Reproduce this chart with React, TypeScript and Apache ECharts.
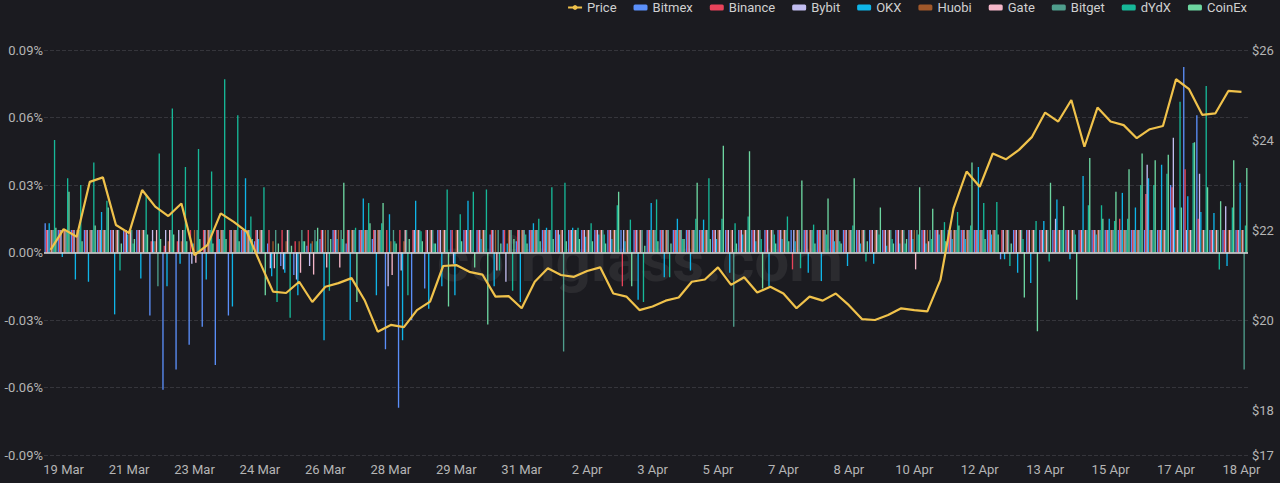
import React, { useEffect, useRef } from "react";
import * as echarts from "echarts";

const dayLabels = [
  "19 Mar", "20 Mar", "21 Mar", "22 Mar", "23 Mar", "24 Mar", "25 Mar", "26 Mar", "27 Mar", "28 Mar",
  "29 Mar", "30 Mar", "31 Mar", "1 Apr", "2 Apr", "3 Apr", "4 Apr", "5 Apr", "6 Apr", "7 Apr",
  "8 Apr", "9 Apr", "10 Apr", "11 Apr", "12 Apr", "13 Apr", "14 Apr", "15 Apr", "16 Apr", "17 Apr", "18 Apr",
];
const hourLabels = ["00:00", "08:00", "16:00"];

const price = [
  21.56, 22.02, 21.85, 23.07, 23.17, 22.11, 21.93, 22.89, 22.52, 22.31,
  22.59, 21.44, 21.67, 22.37, 22.18, 21.96, 21.28, 20.63, 20.6, 20.85,
  20.4, 20.74, 20.82, 20.93, 20.44, 19.74, 19.89, 19.84, 20.22, 20.41,
  21.2, 21.22, 21.07, 21.01, 20.52, 20.53, 20.26, 20.85, 21.15, 21.0,
  20.96, 21.09, 21.17, 20.59, 20.52, 20.22, 20.3, 20.43, 20.5, 20.85,
  20.9, 21.17, 20.78, 20.95, 20.61, 20.74, 20.59, 20.26, 20.52, 20.43,
  20.59, 20.33, 20.02, 20.0, 20.11, 20.26, 20.22, 20.19, 20.89, 22.48,
  23.3, 22.96, 23.7, 23.57, 23.78, 24.07, 24.61, 24.41, 24.89, 23.85,
  24.72, 24.41, 24.33, 24.04, 24.24, 24.31, 25.35, 25.13, 24.56, 24.59,
  25.09, 25.07,
];

const bitmex = [
  0.013, 0.01, 0.01, 0.01, 0.01, 0.01, 0.01, 0.01, -0.028, -0.061,
  -0.052, -0.041, -0.033, -0.05, -0.028, 0.01, 0.005, 0.004, -0.006, -0.01,
  0.003, 0.006, 0.01, 0.004, 0.01, 0.006, -0.043, -0.069, -0.03, -0.016,
  0.01, 0.01, 0.01, 0.01, 0.008, 0.01, 0.005, 0.01, 0.01, 0.01,
  0.01, 0.01, 0.01, 0.01, 0.01, 0.01, 0.01, 0.01, 0.01, 0.01,
  0.01, 0.01, 0.01, 0.01, 0.01, 0.01, 0.01, 0.01, 0.01, 0.01,
  0.01, 0.01, 0.01, 0.01, 0.01, 0.01, 0.01, 0.01, 0.01, 0.01,
  0.01, 0.01, 0.01, -0.003, 0.01, 0.01, 0.01, 0.01, 0.01, 0.01,
  0.01, 0.01, 0.01, 0.01, 0.01, 0.01, 0.03, 0.0825, 0.061, 0.01,
  0.01, 0.01,
];

const binance = [
  0.01, 0.01, 0.01, 0.01, 0.01, 0.01, 0.01, 0.01, 0.005, 0.003,
  0.005, 0.01, 0.01, 0.01, 0.01, 0.01, 0.01, 0.01, 0.01, 0.005,
  0.01, 0.01, 0.01, 0.01, 0.01, 0.01, 0.01, 0.01, 0.01, 0.01,
  0.01, 0.01, 0.01, 0.01, 0.01, 0.01, 0.01, 0.01, 0.01, 0.01,
  0.01, 0.01, 0.01, 0.01, -0.015, 0.01, 0.01, 0.01, 0.01, 0.01,
  0.01, 0.01, 0.01, 0.01, 0.01, 0.01, 0.01, -0.0075, 0.01, 0.01,
  0.01, 0.01, 0.01, 0.01, 0.01, 0.01, 0.01, 0.01, 0.01, 0.01,
  0.01, 0.01, 0.01, 0.01, 0.01, 0.01, 0.01, 0.01, 0.01, 0.01,
  0.01, 0.01, 0.015, 0.01, 0.026, 0.01, 0.029, 0.037, 0.015, 0.01,
  0.01, 0.01,
];

const bybit = [
  0.01, 0.01, 0.01, 0.01, 0.01, 0.01, 0.01, 0.01, 0.01, 0.01,
  0.01, -0.005, 0.01, 0.01, 0.01, 0.01, 0.01, -0.007, -0.0075, -0.012,
  -0.006, 0.01, 0.01, 0.01, 0.01, 0.01, -0.015, -0.008, 0.01, 0.01,
  0.01, -0.005, 0.01, 0.01, 0.01, -0.013, 0.01, 0.01, 0.01, 0.01,
  0.01, 0.01, 0.01, 0.01, 0.01, 0.01, 0.01, 0.01, 0.01, 0.01,
  0.01, 0.01, 0.01, 0.01, 0.01, 0.01, 0.01, 0.01, 0.01, 0.01,
  0.01, 0.01, 0.01, 0.01, 0.01, 0.01, 0.01, 0.01, 0.01, 0.01,
  0.01, 0.01, 0.01, 0.01, 0.01, 0.01, 0.01, 0.015, 0.01, 0.01,
  0.01, 0.01, 0.01, 0.01, 0.039, 0.01, 0.051, 0.01, 0.035, 0.01,
  0.0206, 0.01,
];

const okx = [
  0.013, -0.002, -0.012, -0.013, 0.018, -0.0275, 0.008, -0.0115, 0.005, -0.015,
  -0.005, 0.004, -0.012, 0.006, -0.024, 0.033, 0.006, -0.0105, -0.009, -0.019,
  0.004, -0.039, 0.006, -0.03, 0.024, -0.019, 0.017, -0.039, 0.023, -0.025,
  -0.015, -0.019, 0.023, 0.006, -0.015, 0.004, -0.022, 0.013, 0.011, 0.008,
  0.011, 0.007, 0.008, 0.006, 0.005, -0.021, 0.022, -0.011, 0.015, -0.008,
  0.0146, 0.006, -0.009, 0.008, 0.005, -0.015, 0.006, 0.005, -0.009, -0.0127,
  0.005, -0.006, 0.004, -0.005, 0.003, 0.004, 0.006, 0.004, 0.008, 0.006,
  0.006, 0.038, 0.008, -0.003, -0.009, -0.0135, 0.014, 0.0236, -0.003, 0.034,
  0.008, 0.015, 0.0265, 0.02, 0.033, 0.039, 0.02, 0.025, 0.018, 0.0176,
  -0.006, 0.031,
];

const huobi = [
  0.01, 0.01, 0.01, 0.01, 0.01, 0.01, 0.01, 0.01, 0.005, 0.005,
  0.005, 0.01, 0.01, 0.01, 0.01, 0.01, 0.01, 0.005, 0.005, 0.005,
  0.005, 0.01, 0.01, 0.01, 0.01, 0.01, 0.005, 0.005, 0.01, 0.01,
  0.01, 0.01, 0.01, 0.01, 0.01, 0.01, 0.01, 0.01, 0.01, 0.01,
  0.01, 0.01, 0.01, 0.01, 0.01, 0.01, 0.01, 0.01, 0.01, 0.01,
  0.01, 0.01, 0.01, 0.01, 0.01, 0.01, 0.01, 0.01, 0.01, 0.01,
  0.01, 0.01, 0.01, 0.01, 0.01, 0.01, 0.01, 0.01, 0.01, 0.01,
  0.01, 0.01, 0.01, 0.01, 0.01, 0.01, 0.01, 0.01, 0.01, 0.01,
  0.01, 0.01, 0.01, 0.01, 0.01, 0.01, 0.01, 0.01, 0.01, 0.01,
  0.01, 0.01,
];

const gate = [
  0.01, 0.01, 0.01, 0.01, 0.01, 0.01, 0.01, 0.01, 0.01, 0.01,
  0.01, -0.0045, 0.01, 0.01, 0.01, 0.01, 0.01, -0.007, 0.01, -0.009,
  -0.0098, -0.0067, -0.0067, 0.01, 0.01, 0.01, -0.01, 0.01, 0.01, 0.01,
  0.01, 0.01, 0.01, 0.01, -0.008, 0.01, 0.01, 0.01, 0.01, 0.01,
  0.01, 0.01, 0.01, 0.01, 0.01, 0.01, 0.01, 0.01, 0.01, 0.01,
  0.01, 0.01, 0.01, 0.01, 0.01, 0.01, 0.01, 0.01, 0.01, 0.01,
  0.01, 0.01, 0.01, 0.01, 0.01, 0.01, -0.0075, 0.005, 0.01, 0.01,
  0.01, 0.01, 0.01, 0.01, 0.01, 0.01, 0.01, 0.01, 0.01, 0.01,
  0.01, 0.01, 0.01, 0.01, 0.01, 0.01, 0.01, 0.01, 0.01, 0.01,
  0.01, 0.01,
];

const bitget = [
  0.01, 0.01, 0.01, 0.01, 0.01, 0.01, 0.01, 0.01, -0.015, 0.01,
  0.01, 0.01, 0.01, 0.01, 0.01, 0.01, 0.01, 0.01, 0.01, 0.01,
  0.01, 0.01, 0.01, 0.01, 0.01, 0.01, 0.01, 0.01, 0.01, 0.01,
  0.01, 0.01, 0.01, 0.01, 0.01, 0.01, 0.01, 0.01, 0.01, -0.044,
  0.01, 0.01, 0.01, 0.01, 0.01, 0.01, 0.01, 0.01, 0.01, 0.01,
  0.01, 0.01, -0.033, 0.01, 0.01, 0.01, 0.01, 0.01, 0.01, 0.01,
  0.01, 0.01, 0.01, 0.01, 0.01, 0.01, 0.01, 0.01, 0.01, 0.01,
  0.01, 0.01, 0.01, 0.01, 0.01, 0.01, 0.01, 0.01, 0.01, 0.01,
  0.01, 0.01, 0.01, 0.01, 0.01, 0.01, 0.01, 0.01, 0.01, 0.01,
  0.01, -0.052,
];

const dydx = [
  0.05, 0.033, 0.03, 0.04, 0.023, -0.008, 0.004, 0.026, 0.044, 0.064,
  0.038, 0.046, 0.036, 0.077, 0.061, 0.016, 0.029, -0.022, -0.029, 0.005,
  0.005, -0.017, 0.006, 0.011, 0.022, 0.013, 0.005, -0.019, 0.0095, 0.004,
  0.028, 0.017, 0.027, 0.028, -0.008, -0.017, 0.008, 0.015, 0.029, 0.031,
  0.011, 0.013, 0.008, 0.021, 0.0146, -0.022, 0.0236, -0.011, 0.006, 0.015,
  0.033, 0.015, 0.013, 0.016, 0.006, 0.008, 0.016, -0.007, 0.0124, 0.008,
  0.005, 0.012, -0.004, 0.008, 0.006, 0.004, 0.008, 0.006, 0.0135, 0.018,
  0.012, 0.022, 0.0224, -0.006, 0.006, 0.014, -0.004, 0.01, 0.008, 0.021,
  0.021, 0.014, 0.015, 0.03, 0.03, 0.035, 0.067, 0.0487, 0.074, -0.0075,
  0.02, 0.012,
];

const coinex = [
  0.011, 0.027, 0.005, 0.012, 0.02, 0.004, 0.006, 0.008, 0.006, 0.008,
  0.005, 0.006, 0.004, 0.006, 0.005, 0.006, -0.019, 0.004, 0.003, 0.005,
  0.011, 0.006, 0.031, -0.022, 0.013, 0.022, 0.004, 0.006, 0.005, 0.004,
  -0.024, 0.005, -0.0067, -0.032, 0.004, 0.006, 0.004, 0.005, 0.006, 0.005,
  0.006, 0.005, 0.004, 0.027, -0.015, 0.003, 0.005, 0.004, 0.006, 0.031,
  0.006, 0.0475, 0.004, 0.045, -0.016, 0.004, 0.005, 0.032, 0.004, 0.024,
  0.004, 0.033, 0.005, 0.02, 0.004, 0.006, 0.029, 0.0195, 0.005, 0.012,
  0.04, 0.006, 0.008, 0.004, -0.02, -0.035, 0.031, 0.0206, -0.021, 0.042,
  0.015, 0.027, 0.037, 0.044, 0.041, 0.0435, 0.02, 0.049, 0.029, 0.0228,
  0.041, 0.0376,
];

const exchangeNames = ["Bitmex", "Binance", "Bybit", "OKX", "Huobi", "Gate", "Bitget", "dYdX", "CoinEx"];
const exchangeColors = ["#5b8ff9", "#e8435a", "#c2bdf0", "#0fb5e8", "#a0582a", "#f5b7c9", "#4f9e8c", "#17b898", "#6dd6a0"];
const exchangeValues = [bitmex, binance, bybit, okx, huobi, gate, bitget, dydx, coinex];
const priceColor = "#f0c24b";

export default function App() {
  const ref = useRef<HTMLDivElement>(null);

  useEffect(() => {
    if (!ref.current) return;
    const chart = echarts.init(ref.current, undefined, { renderer: "svg" });

    const categories: string[] = [];
    for (const d of dayLabels) for (const h of hourLabels) categories.push(`${d} ${h}`);
    const cats = categories.slice(1, 93);

    const barSeries = exchangeNames.map((name, i) => ({
      name,
      type: "bar",
      yAxisIndex: 0,
      data: exchangeValues[i],
      barGap: "0%",
      barCategoryGap: "8%",
      itemStyle: { color: exchangeColors[i] },
      ...(i === 0
        ? {
            markLine: {
              silent: true,
              symbol: ["none", "none"],
              label: { show: false },
              lineStyle: { color: "#dcdcdc", type: "solid", width: 1.6 },
              data: [{ yAxis: 0 }],
            },
          }
        : {}),
    }));

    chart.setOption({
      animation: false,
      backgroundColor: "#1b1b20",
      textStyle: { fontFamily: "Roboto, 'Liberation Sans', sans-serif" },
      graphic: [
        {
          type: "text",
          left: "center",
          top: 228,
          silent: true,
          z: 0,
          style: {
            text: "coinglass.com",
            fill: "rgba(255,255,255,0.07)",
            fontSize: 62,
            fontWeight: "bold",
            fontFamily: "Roboto, sans-serif",
          },
        },
      ],
      legend: {
        top: -4,
        right: 28,
        itemWidth: 14,
        itemHeight: 6,
        itemGap: 17,
        textStyle: { color: "#d0d0d0", fontSize: 13 },
        data: ["Price", ...exchangeNames],
      },
      grid: { left: 44, right: 32, top: 50, bottom: 28 },
      xAxis: {
        type: "category",
        data: cats,
        boundaryGap: true,
        axisLine: { show: false },
        axisTick: { show: false },
        axisLabel: {
          color: "#b5b5b5",
          fontSize: 13,
          margin: 8,
          interval: (idx: number) => idx % 5 === 1,
          formatter: (v: string) => v.split(" ").slice(0, 2).join(" "),
        },
        splitLine: { show: false },
      },
      yAxis: [
        {
          type: "value",
          min: -0.09,
          max: 0.09,
          interval: 0.03,
          axisLine: { show: false },
          axisTick: { show: false },
          axisLabel: {
            color: "#b5b5b5",
            fontSize: 13,
            margin: 1,
            formatter: (v: number) => (Math.abs(v) < 1e-9 ? "0.00" : v.toFixed(2)) + "%",
          },
          splitLine: { show: true, lineStyle: { color: "#35353b", type: "dashed" } },
        },
        {
          type: "value",
          min: 17,
          max: 26,
          splitNumber: 5,
          axisLine: { show: false },
          axisTick: { show: false },
          axisLabel: {
            color: "#b5b5b5",
            fontSize: 13,
            margin: 4,
            formatter: (v: number) => "$" + v,
          },
          splitLine: { show: false },
        },
      ],
      series: [
        {
          name: "Price",
          type: "line",
          yAxisIndex: 1,
          data: price,
          z: 10,
          showSymbol: false,
          symbol: "circle",
          symbolSize: 6,
          lineStyle: { color: priceColor, width: 2.2 },
          itemStyle: { color: priceColor },
        },
        ...barSeries,
      ],
    });

    return () => chart.dispose();
  }, []);

  return (
    <div
      ref={ref}
      style={{ position: "absolute", left: 0, top: 0, width: 1280, height: 483 }}
    />
  );
}
